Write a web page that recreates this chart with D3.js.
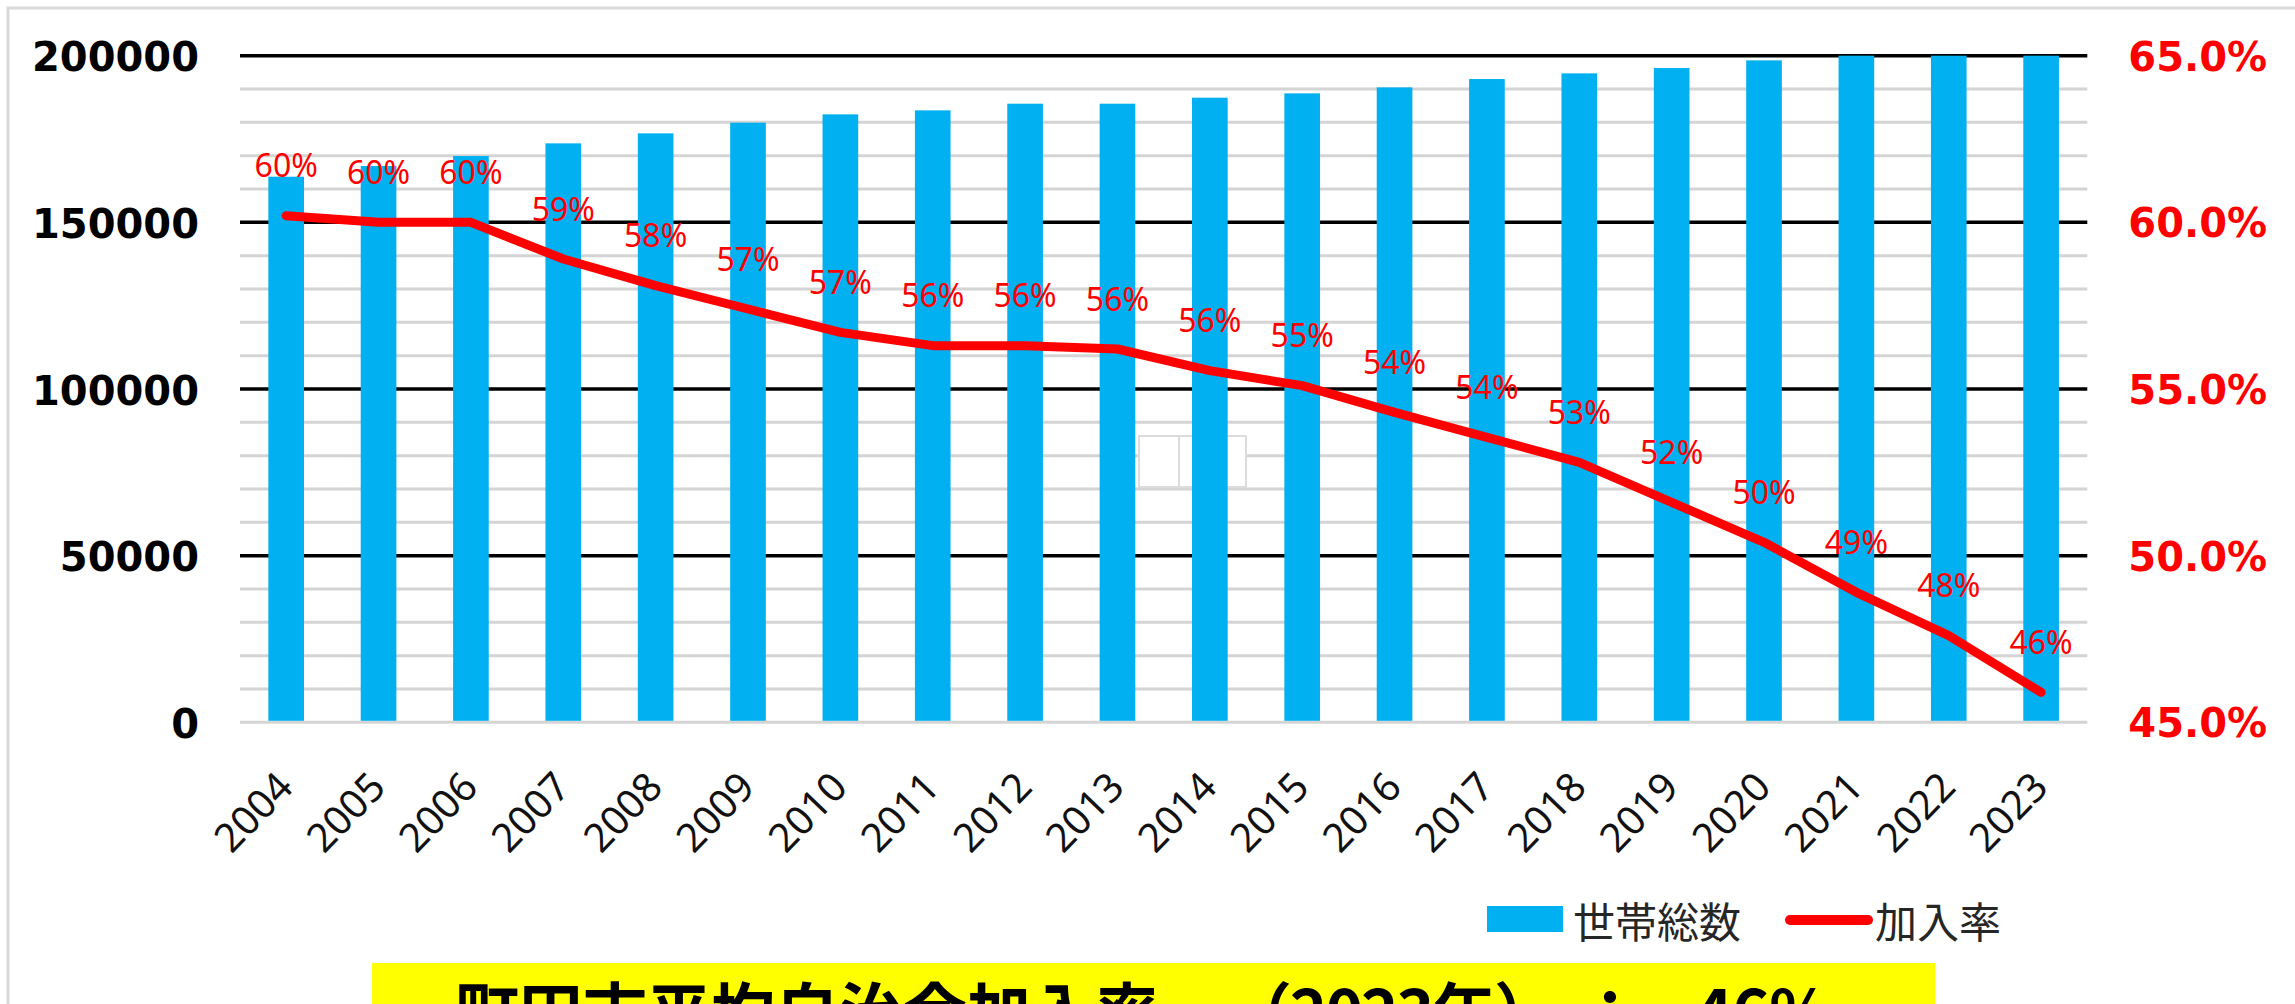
<!DOCTYPE html>
<html>
<head>
<meta charset="utf-8">
<script src="https://cdn.jsdelivr.net/npm/d3@7"></script>
<style>
  html, body { margin: 0; padding: 0; background: #fff; overflow: hidden; }
  svg { display: block; }
</style>
</head>
<body>
<svg id="chart" width="2295" height="1004"></svg>
<script>
// ---- data ----
const years = ["2004","2005","2006","2007","2008","2009","2010","2011","2012","2013",
               "2014","2015","2016","2017","2018","2019","2020","2021","2022","2023"];
const households = [163700, 166900, 169900, 173700, 176700, 179900, 182400, 183600, 185600, 185600,
                    187400, 188700, 190500, 193000, 194700, 196300, 198600, 200000, 200000, 200000];
const joinRates = [60.2, 60.0, 60.0, 58.9, 58.1, 57.4, 56.7, 56.3, 56.3, 56.2,
                   55.55, 55.1, 54.3, 53.55, 52.8, 51.6, 50.4, 48.9, 47.6, 45.9];
const leftTicks = [0, 50000, 100000, 150000, 200000];
const rightTicks = [45, 50, 55, 60, 65];
const legendLabels = ["世帯総数", "加入率"];
const titleParts = ["町田市平均自治会加入率", "（2023年）", "：", "46%"];

// ---- layout ----
const svg = d3.select("#chart");
const plotL = 240, plotR = 2087.3, plotT = 55.7, plotB = 722.3;
const barColor = "#00B0F0", lineColor = "#FF0000";

// outer frame
svg.append("rect").attr("x", 8).attr("y", 8).attr("width", 2400).attr("height", 1200)
  .attr("fill", "none").attr("stroke", "#d9d9d9").attr("stroke-width", 3);

const x = d3.scaleBand().domain(years).range([plotL, plotR]).paddingInner(0.614).paddingOuter(0.307);
const y = d3.scaleLinear().domain([0, 200000]).range([plotB, plotT]);
const y2 = d3.scaleLinear().domain([45, 65]).range([plotB, plotT]);
const cx = d => x(d) + x.bandwidth() / 2;

// gridlines
const gridVals = d3.range(0, 200001, 10000);
svg.append("g").selectAll("line").data(gridVals).join("line")
  .attr("x1", plotL).attr("x2", plotR)
  .attr("y1", d => y(d)).attr("y2", d => y(d))
  .attr("stroke", d => (d > 0 && d % 50000 === 0) ? "#000" : "#d4d4d4")
  .attr("stroke-width", d => (d > 0 && d % 50000 === 0) ? 3.5 : 3);

// artifact box
const art = svg.append("g");
art.append("rect").attr("x", 1139).attr("y", 436).attr("width", 107).attr("height", 51)
  .attr("fill", "#fff").attr("stroke", "#dcdcdc").attr("stroke-width", 2);
art.append("line").attr("x1", 1179).attr("x2", 1179).attr("y1", 436).attr("y2", 487)
  .attr("stroke", "#dcdcdc").attr("stroke-width", 2);

// bars
svg.append("g").selectAll("rect").data(years).join("rect")
  .attr("x", d => x(d))
  .attr("width", x.bandwidth())
  .attr("y", (d, i) => y(households[i]))
  .attr("height", (d, i) => y(0) - y(households[i]) - 1.5)
  .attr("fill", barColor);

// line
const line = d3.line().x((d, i) => cx(years[i])).y(d => y2(d));
svg.append("path").datum(joinRates).attr("d", line)
  .attr("fill", "none").attr("stroke", lineColor).attr("stroke-width", 9)
  .attr("stroke-linejoin", "round").attr("stroke-linecap", "round");

// data labels
svg.append("g").selectAll("text").data(joinRates).join("text")
  .attr("x", (d, i) => cx(years[i]))
  .attr("y", d => y2(d) - 51)
  .attr("text-anchor", "middle").attr("dominant-baseline", "central")
  .attr("font-family", "'Noto Sans', sans-serif").attr("font-size", 32)
  .attr("fill", lineColor)
  .text(d => Math.round(d) + "%");

// left axis
const axL = svg.append("g").attr("transform", `translate(${plotL},0)`)
  .call(d3.axisLeft(y).tickValues(leftTicks).tickSize(0).tickPadding(41).tickFormat(d3.format("d")));
axL.select(".domain").remove();
axL.selectAll("text").attr("font-family", "'DejaVu Sans', sans-serif").attr("font-weight", "bold")
  .attr("font-size", 40).attr("fill", "#000").attr("dy", "0.38em");

// right axis
const axR = svg.append("g").attr("transform", `translate(${plotR},0)`)
  .call(d3.axisRight(y2).tickValues(rightTicks).tickSize(0).tickPadding(41).tickFormat(d => d.toFixed(1) + "%"));
axR.select(".domain").remove();
axR.selectAll("text").attr("font-family", "'DejaVu Sans', sans-serif").attr("font-weight", "bold")
  .attr("font-size", 40).attr("fill", lineColor).attr("dy", "0.36em");

// x labels
svg.append("g").selectAll("text").data(years).join("text")
  .attr("transform", d => `translate(${cx(d) + 9},789) rotate(-46)`)
  .attr("text-anchor", "end")
  .attr("font-family", "'Noto Sans', sans-serif").attr("font-size", 40)
  .attr("fill", "#111")
  .text(d => d);

// legend
const lg = svg.append("g");
lg.append("rect").attr("x", 1487).attr("y", 906).attr("width", 76).attr("height", 26).attr("fill", barColor);
lg.append("text").attr("x", 1573).attr("y", 919).attr("dominant-baseline", "central")
  .attr("font-family", "'Noto Sans CJK JP', sans-serif").attr("font-size", 42).attr("fill", "#262626")
  .text(legendLabels[0]);
lg.append("line").attr("x1", 1790).attr("x2", 1868).attr("y1", 920).attr("y2", 920)
  .attr("stroke", lineColor).attr("stroke-width", 10).attr("stroke-linecap", "round");
lg.append("text").attr("x", 1875).attr("y", 919).attr("dominant-baseline", "central")
  .attr("font-family", "'Noto Sans CJK JP', sans-serif").attr("font-size", 42).attr("fill", "#262626")
  .text(legendLabels[1]);

// title box
svg.append("rect").attr("x", 372).attr("y", 963).attr("width", 1563).attr("height", 80).attr("fill", "#FFFF00");
const title = svg.append("text").attr("y", 1036)
  .attr("font-family", "'Noto Sans CJK JP', sans-serif").attr("font-weight", "bold").attr("font-size", 64)
  .attr("fill", "#000");
const partX = [455, 1228, 1578, 1695];
const partLen = [null, 330, null, 136];
titleParts.forEach((t, i) => {
  const ts = title.append("tspan").attr("x", partX[i]).text(t);
  if (partLen[i]) ts.attr("textLength", partLen[i]).attr("lengthAdjust", "spacing");
});
</script>
</body>
</html>
